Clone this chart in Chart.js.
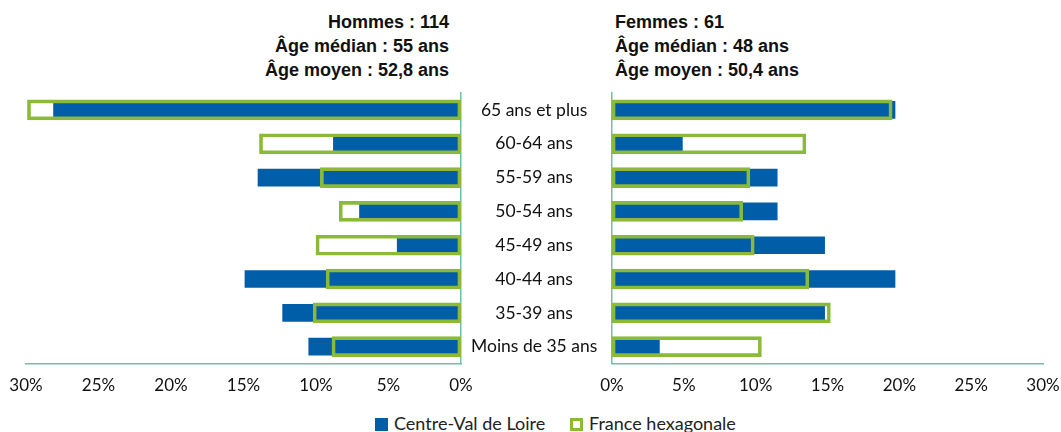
<!DOCTYPE html>
<html>
<head>
<meta charset="utf-8">
<script src="https://cdn.jsdelivr.net/npm/chart.js@4/dist/chart.umd.min.js"></script>
<style>
  body { margin: 0; background: #fff; }
  #wrap { position: relative; width: 1061px; height: 432px; overflow: hidden; }
  .box { position: absolute; }
  .title { position: absolute; font-family: "Liberation Sans", Arial, sans-serif; font-weight: bold;
           font-size: 18px; line-height: 24px; color: #111; white-space: nowrap; }
  #legend { position: absolute; top: 413px; left: 0; width: 1061px; font-family: Lato, sans-serif;
            font-size: 18px; color: #222; white-space: nowrap; }
  .item { position: absolute; top: 0; height: 20px; line-height: 20px; }
  .sw { display: inline-block; width: 13px; height: 13px; vertical-align: -1px; margin-right: 6px; box-sizing: border-box; }
</style>
</head>
<body>
<div id="wrap">
  <div class="title" style="right:612px; top:10px; text-align:right;">Hommes : 114<br>Âge médian : 55 ans<br>Âge moyen : 52,8 ans</div>
  <div class="title" style="left:615px; top:10px;">Femmes : 61<br>Âge médian : 48 ans<br>Âge moyen : 50,4 ans</div>
  <div class="box" style="left:0; top:90px; width:612px; height:318px;"><canvas id="hommes"></canvas></div>
  <div class="box" style="left:590px; top:90px; width:471px; height:318px;"><canvas id="femmes"></canvas></div>
  <div id="legend">
    <span class="item" style="left:375px;"><span class="sw" style="background:#005EA8"></span>Centre-Val de Loire</span>
    <span class="item" style="left:570px;"><span class="sw" style="border:3px solid #8BBA3A"></span>France hexagonale</span>
  </div>
</div>
<script>
const ages = ['65 ans et plus', '60-64 ans', '55-59 ans', '50-54 ans', '45-49 ans', '40-44 ans', '35-39 ans', 'Moins de 35 ans']

// parts en %
const hommesCentre = [28.1, 8.8, 14.0, 7.0, 4.4, 14.9, 12.3, 10.5]
const hommesFrance = [29.9, 13.9, 9.7, 8.4, 10.0, 9.3, 10.2, 8.9]
const femmesCentre = [19.7, 4.9, 11.5, 11.5, 14.8, 19.7, 14.8, 3.3]
const femmesFrance = [19.5, 13.5, 9.6, 9.1, 9.9, 13.7, 15.2, 10.4]

const xTicks = [0, 5, 10, 15, 20, 25, 30]

const blue = '#005EA8'
const green = '#8BBA3A'
const axisColor = '#6CC2A4'
const tickFont = { family: 'Lato', size: 17 }
const catFont = { family: 'Lato', size: 17.5 }

const makeDatasets = (centre, france) => [
  {
    label: 'Centre-Val de Loire',
    data: centre,
    backgroundColor: blue,
    borderWidth: 0,
    barThickness: 17,
    grouped: false,
    order: 2
  },
  {
    label: 'France hexagonale',
    data: france,
    backgroundColor: 'rgba(0,0,0,0)',
    borderColor: green,
    borderWidth: 3,
    borderSkipped: false,
    barThickness: 20,
    grouped: false,
    order: 1
  }
]

const xScale = (reverse) => ({
  type: 'linear',
  reverse: reverse,
  min: 0,
  max: 30,
  afterBuildTicks: (s) => { s.ticks = xTicks.map(v => ({ value: v })) },
  afterFit: (s) => { s.paddingLeft = 0; s.paddingRight = 0 },
  grid: { display: false, drawTicks: false },
  border: { display: true, color: axisColor, width: 1.5 },
  ticks: { font: tickFont, color: '#111', padding: 12, maxRotation: 0, callback: v => v + '%' }
})

Chart.defaults.animation = false

new Chart(document.getElementById('hommes'), {
  type: 'bar',
  data: { labels: ages, datasets: makeDatasets(hommesCentre, hommesFrance) },
  options: {
    indexAxis: 'y',
    maintainAspectRatio: false,
    layout: { padding: { left: 26, top: 3, right: 0, bottom: 0 } },
    plugins: { legend: { display: false }, tooltip: { enabled: false } },
    scales: {
      x: xScale(true),
      y: {
        position: 'right',
        afterFit: (s) => { s.width = 151; s.paddingTop = 0; s.paddingBottom = 0 },
        grid: { display: false, drawTicks: false },
        border: { display: true, color: axisColor, width: 1.5 },
        ticks: { font: catFont, color: '#111', crossAlign: 'center', padding: 10 }
      }
    }
  }
})

new Chart(document.getElementById('femmes'), {
  type: 'bar',
  data: { labels: ages, datasets: makeDatasets(femmesCentre, femmesFrance) },
  options: {
    indexAxis: 'y',
    maintainAspectRatio: false,
    layout: { padding: { left: 22, top: 3, right: 18, bottom: 0 } },
    plugins: { legend: { display: false }, tooltip: { enabled: false } },
    scales: {
      x: xScale(false),
      y: {
        position: 'left',
        afterFit: (s) => { s.width = 0; s.paddingTop = 0; s.paddingBottom = 0 },
        grid: { display: false, drawTicks: false },
        border: { display: true, color: axisColor, width: 1.5 },
        ticks: { display: false }
      }
    }
  }
})
</script>
</body>
</html>
